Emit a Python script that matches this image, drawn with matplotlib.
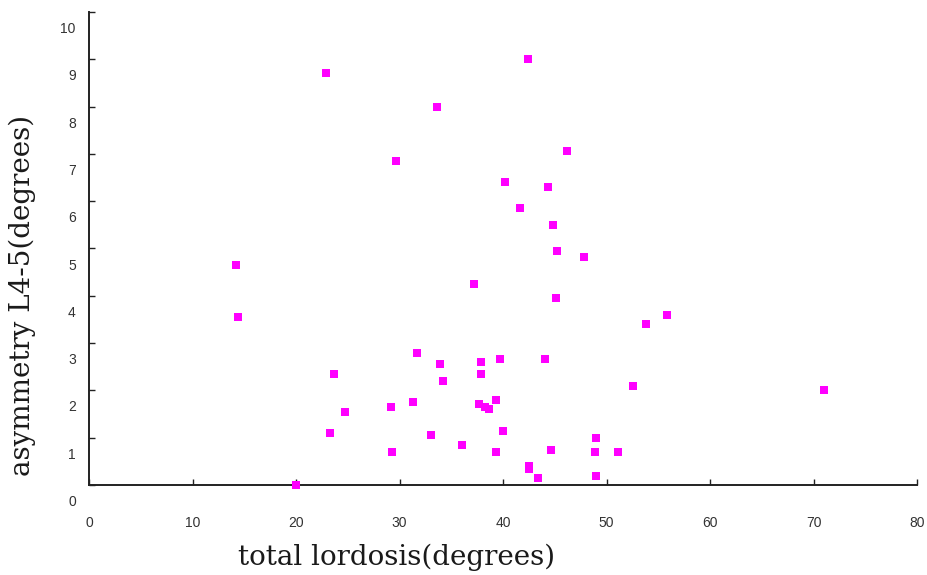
import matplotlib
matplotlib.use("Agg")
import matplotlib.pyplot as plt
import matplotlib.transforms as mtransforms

# data: total lordosis (deg) vs asymmetry L4-5 (deg)
total_lordosis = [14.2, 14.4, 22.9, 20.0, 23.7, 23.3, 24.7, 29.2, 29.3, 29.7,
                  31.3, 31.7, 33.0, 33.6, 33.9, 34.2, 36.0, 37.2, 37.7, 37.9,
                  37.9, 38.3, 38.6, 39.3, 39.3, 39.7, 40.0, 40.2, 41.6, 42.4,
                  42.5, 42.5, 43.4, 44.1, 44.3, 44.6, 44.8, 45.2, 45.1, 46.2,
                  47.8, 49.0, 48.9, 49.0, 51.1, 52.6, 53.8, 55.8, 71.0]
asymmetry = [5.01, 3.91, 9.06, 0.36, 2.71, 1.46, 1.91, 2.01, 1.06, 7.21,
             2.11, 3.16, 1.41, 8.36, 2.91, 2.56, 1.21, 4.61, 2.07, 2.96,
             2.71, 2.01, 1.97, 2.16, 1.06, 3.02, 1.51, 6.77, 6.21, 9.36,
             0.77, 0.70, 0.51, 3.02, 6.67, 1.11, 5.86, 5.31, 4.31, 7.42,
             5.18, 1.36, 1.06, 0.56, 1.06, 2.46, 3.76, 3.96, 2.36]
x_ticks = [0, 10, 20, 30, 40, 50, 60, 70, 80]
y_labels = [0, 1, 2, 3, 4, 5, 6, 7, 8, 9, 10]
y_offset = 0.36  # tick marks sit above the label positions

fig = plt.figure(figsize=(9.27, 5.75), dpi=100)
ax = fig.add_axes([89/927, (575-485)/575, (917-89)/927, (485-12)/575])

ax.scatter(total_lordosis, asymmetry, marker='s', s=28, color='#ff00ff',
           linewidths=0, clip_on=False, zorder=3)

ax.set_xlim(0, 80)
ax.set_ylim(y_offset, 10 + y_offset)

for s in ['top', 'right']:
    ax.spines[s].set_visible(False)
for s in ['left', 'bottom']:
    ax.spines[s].set_color('#222222')
    ax.spines[s].set_linewidth(1.4)

ax.set_xticks(x_ticks)
ax.set_xticklabels([str(v) for v in x_ticks], fontsize=10, color='#333333',
                   family='Liberation Sans')
ax.tick_params(axis='x', direction='in', length=4, width=1, color='#222222', pad=22)

ax.set_yticks([v + y_offset for v in y_labels])
ax.set_yticklabels([])
ax.tick_params(axis='y', direction='in', length=4, width=1, color='#222222')

trans = mtransforms.blended_transform_factory(ax.transAxes, ax.transData)
for v in y_labels:
    ax.text(-0.016, v, str(v), transform=trans, ha='right', va='center',
            fontsize=10, color='#333333', family='Liberation Sans', clip_on=False)

fig.text(397/927, 1 - 557/575, 'total lordosis(degrees)', ha='center', va='center',
         fontsize=20, family='DejaVu Serif', color='#1a1a1a')
fig.text(22/927, 1 - 295/575, 'asymmetry L4-5(degrees)', ha='center', va='center',
         rotation=90, fontsize=20, family='DejaVu Serif', color='#1a1a1a')

fig.savefig('out.png', dpi=100)
